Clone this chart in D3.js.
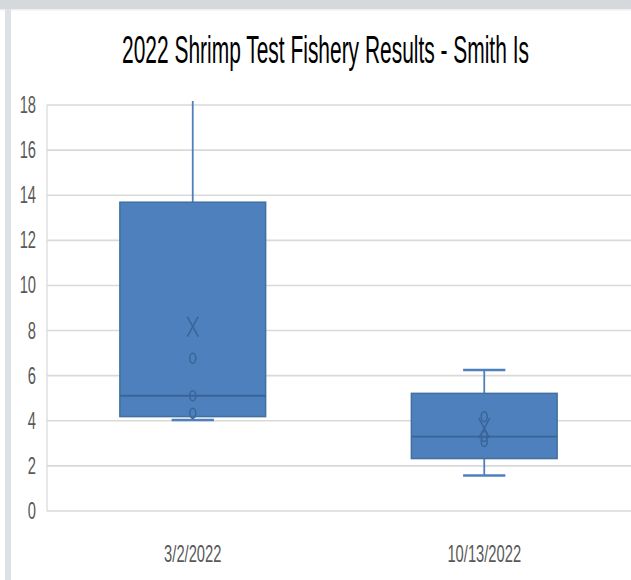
<!DOCTYPE html>
<html>
<head>
<meta charset="utf-8">
<script src="https://cdn.jsdelivr.net/npm/d3@7"></script>
<style>
  html, body { margin: 0; padding: 0; background: #ffffff; }
  svg { display: block; }
</style>
</head>
<body>
<svg id="chart" width="631" height="580"></svg>
<script>
// ---- data ----
const title = "2022 Shrimp Test Fishery Results - Smith Is";
const categories = ["3/2/2022", "10/13/2022"];
const samples1 = [4.04, 4.33, 5.11, 6.77, 20.61];
const samples2 = [1.57, 3.08, 3.30, 4.18, 6.25];
const yTicks = [0, 2, 4, 6, 8, 10, 12, 14, 16, 18];

const seriesList = [samples1, samples2];

// Excel-style exclusive quartile
function quartileExc(sorted, p) {
  const n = sorted.length;
  const pos = p * (n + 1);
  const lo = Math.floor(pos);
  const frac = pos - lo;
  if (lo < 1) return sorted[0];
  if (lo >= n) return sorted[n - 1];
  return sorted[lo - 1] + frac * (sorted[lo] - sorted[lo - 1]);
}
function stats(values) {
  const s = values.slice().sort(d3.ascending);
  const q1 = quartileExc(s, 0.25), med = d3.median(s), q3 = quartileExc(s, 0.75);
  const iqr = q3 - q1;
  const lowF = q1 - 1.5 * iqr, hiF = q3 + 1.5 * iqr;
  const inside = s.filter(v => v >= lowF && v <= hiF);
  const wLo = d3.min(inside), wHi = d3.max(inside);
  return { q1, med, q3, wLo, wHi, mean: d3.mean(s),
           inner: s.filter(v => v > wLo && v < wHi) };
}
const boxes = categories.map((c, i) => ({ cat: c, ...stats(seriesList[i]) }));

// ---- layout ----
const svg = d3.select("#chart");
const W = 631, H = 580;
const plot = { left: 47, right: 630, top: 105, bottom: 511 };
const sx = 0.64; // horizontal squeeze of the reference picture

const x = d3.scaleBand().domain(categories).range([plot.left, plot.right])
  .paddingInner(0.5).paddingOuter(0.25);
const y = d3.scaleLinear().domain([0, 18]).range([plot.bottom, plot.top]);

// background frame bits from the reference screenshot
svg.append("rect").attr("x", 0).attr("y", 0).attr("width", W).attr("height", 9).attr("fill", "#d6d9dc");
svg.append("rect").attr("x", 0).attr("y", 9).attr("width", W).attr("height", 1.5).attr("fill", "#eceef0");
svg.append("rect").attr("x", 5).attr("y", 9).attr("width", 6).attr("height", H - 9).attr("fill", "#dde1e6");

// gridlines
svg.append("g").selectAll("line").data(yTicks).join("line")
  .attr("x1", plot.left).attr("x2", W)
  .attr("y1", d => y(d)).attr("y2", d => y(d))
  .attr("stroke", "#d9d9d9").attr("stroke-width", 1.6);
svg.append("line").attr("x1", plot.left).attr("x2", plot.left)
  .attr("y1", y(18)).attr("y2", y(0))
  .attr("stroke", "#d9d9d9").attr("stroke-width", 1.2);

// y-axis labels
const yAxisG = svg.append("g");
yAxisG.selectAll("text").data(yTicks).join("text")
  .attr("transform", d => `translate(36,${y(d) + 8}) scale(${sx},1)`)
  .attr("text-anchor", "end")
  .attr("font-family", "'Liberation Sans', Arial, sans-serif")
  .attr("font-size", 23)
  .attr("fill", "#595959")
  .text(d => d);

// x-axis labels
svg.append("g").selectAll("text").data(categories).join("text")
  .attr("transform", d => `translate(${x(d) + x.bandwidth() / 2},562) scale(${sx},1)`)
  .attr("text-anchor", "middle")
  .attr("font-family", "'Liberation Sans', Arial, sans-serif")
  .attr("font-size", 23)
  .attr("fill", "#595959")
  .text(d => d);

// title (squeezed horizontally to the reference width)
const titleText = svg.append("text")
  .attr("text-anchor", "middle")
  .attr("font-family", "'Liberation Sans', Arial, sans-serif")
  .attr("font-size", 38)
  .attr("fill", "#000")
  .text(title);
const natural = titleText.node().getComputedTextLength();
const tScale = 407 / natural;
titleText.attr("transform", `translate(325.5,63) scale(${tScale},1)`);

// clip for plot area
svg.append("defs").append("clipPath").attr("id", "plotclip")
  .append("rect").attr("x", plot.left).attr("y", plot.top - 4)
  .attr("width", plot.right - plot.left).attr("height", plot.bottom - plot.top + 10);

const fill = "#4e80bd", edge = "#41709f", dark = "#3a6498";
const capW = x.bandwidth() * 0.29;

const g = svg.append("g").attr("clip-path", "url(#plotclip)");
const bg = g.selectAll("g.box").data(boxes).join("g").attr("class", "box");

// whiskers
bg.append("line")
  .attr("x1", d => x(d.cat) + x.bandwidth() / 2).attr("x2", d => x(d.cat) + x.bandwidth() / 2)
  .attr("y1", d => y(d.q3)).attr("y2", d => y(d.wHi))
  .attr("stroke", fill).attr("stroke-width", 1.8);
bg.append("line")
  .attr("x1", d => x(d.cat) + x.bandwidth() / 2).attr("x2", d => x(d.cat) + x.bandwidth() / 2)
  .attr("y1", d => y(d.q1)).attr("y2", d => y(d.wLo))
  .attr("stroke", fill).attr("stroke-width", 1.8);
// caps
bg.append("line")
  .attr("x1", d => x(d.cat) + x.bandwidth() / 2 - capW / 2).attr("x2", d => x(d.cat) + x.bandwidth() / 2 + capW / 2)
  .attr("y1", d => y(d.wHi)).attr("y2", d => y(d.wHi))
  .attr("stroke", fill).attr("stroke-width", 2.5);
bg.append("line")
  .attr("x1", d => x(d.cat) + x.bandwidth() / 2 - capW / 2).attr("x2", d => x(d.cat) + x.bandwidth() / 2 + capW / 2)
  .attr("y1", d => y(d.wLo)).attr("y2", d => y(d.wLo))
  .attr("stroke", fill).attr("stroke-width", 2.5);

// box
bg.append("rect")
  .attr("x", d => x(d.cat)).attr("width", x.bandwidth())
  .attr("y", d => y(d.q3)).attr("height", d => y(d.q1) - y(d.q3))
  .attr("fill", fill).attr("stroke", edge).attr("stroke-width", 1.5);
// median
bg.append("line")
  .attr("x1", d => x(d.cat)).attr("x2", d => x(d.cat) + x.bandwidth())
  .attr("y1", d => y(d.med)).attr("y2", d => y(d.med))
  .attr("stroke", dark).attr("stroke-width", 1.8);

// inner points and mean marker
bg.each(function (d) {
  const cx = x(d.cat) + x.bandwidth() / 2;
  d3.select(this).selectAll("ellipse").data(d.inner).join("ellipse")
    .attr("cx", cx).attr("cy", v => y(v))
    .attr("rx", 3).attr("ry", 5)
    .attr("fill", "none").attr("stroke", dark).attr("stroke-width", 1.5);
  const my = y(d.mean), hx = 5.5, hy = 10;
  d3.select(this).append("path")
    .attr("d", `M${cx - hx},${my - hy}L${cx + hx},${my + hy}M${cx + hx},${my - hy}L${cx - hx},${my + hy}`)
    .attr("stroke", dark).attr("stroke-width", 1.5).attr("fill", "none");
});
</script>
</body>
</html>
